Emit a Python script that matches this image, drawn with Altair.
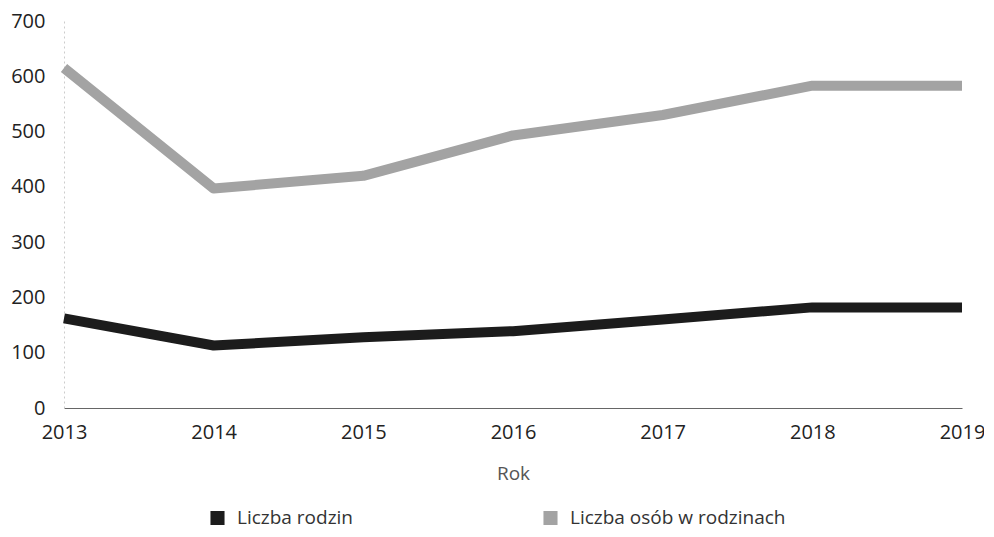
import altair as alt
import pandas as pd

years = [2013, 2014, 2015, 2016, 2017, 2018, 2019]
rodziny = [162, 113, 128, 139, 160, 182, 182]
osoby = [615, 397, 420, 493, 530, 583, 583]
series_names = ["Liczba rodzin", "Liczba osób w rodzinach"]
series_colors = ["#1c1c1c", "#a3a3a3"]

rows = []
for y, v in zip(years, rodziny):
    rows.append({"Rok": y, "Wartość": v, "Seria": series_names[0]})
for y, v in zip(years, osoby):
    rows.append({"Rok": y, "Wartość": v, "Seria": series_names[1]})
df = pd.DataFrame(rows)

FONT = "Open Sans"

chart = alt.Chart(df).mark_line(strokeWidth=10, strokeJoin="round").encode(
    x=alt.X("Rok:Q",
            scale=alt.Scale(domain=[2013, 2019], nice=False, zero=False),
            axis=alt.Axis(values=years, format="d", title="Rok", grid=False,
                          tickSize=0, labelPadding=14, labelFontSize=20, labelFlush=False,
                          labelColor="#222222", titleFontSize=19, titleFontWeight="normal",
                          titleColor="#555555", titlePadding=22,
                          domainColor="#666666", domainWidth=1.2, labelFont=FONT, titleFont=FONT)),
    y=alt.Y("Wartość:Q",
            scale=alt.Scale(domain=[0, 700], nice=False),
            axis=alt.Axis(values=[0, 100, 200, 300, 400, 500, 600, 700], title=None,
                          grid=False, tickSize=0, labelPadding=19, labelFontSize=20,
                          labelColor="#222222", labelFont=FONT,
                          domainColor="#cccccc", domainDash=[2, 3], domainWidth=1)),
    color=alt.Color("Seria:N",
                    scale=alt.Scale(domain=series_names, range=series_colors),
                    sort=series_names,
                    legend=alt.Legend(title=None, orient="none", legendX=144, legendY=487,
                                      direction="horizontal", symbolType="square",
                                      symbolSize=50, symbolStrokeWidth=7,
                                      labelFontSize=19, labelFont=FONT, labelColor="#333333",
                                      columnPadding=178, labelOffset=10, labelLimit=400)),
    detail="Seria:N",
).properties(
    width=898,
    height=387,
    autosize=alt.AutoSizeParams(type="none"),
    padding={"left": 56, "top": 13, "right": 22, "bottom": 121},
).configure_view(stroke=None)

chart.save("out.html", embed_options={"renderer": "svg", "actions": False})
